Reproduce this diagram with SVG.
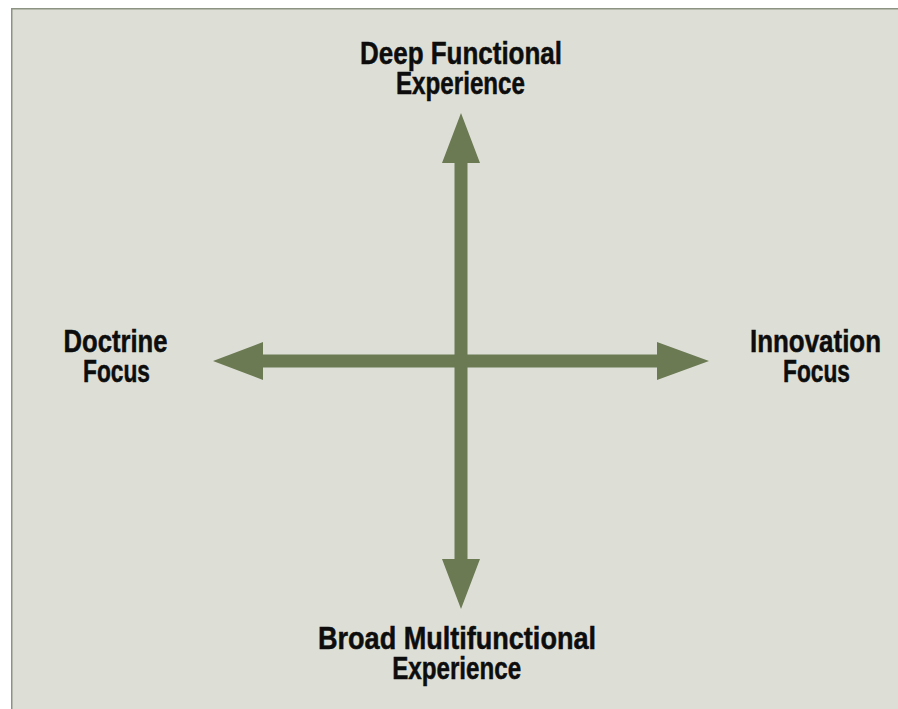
<svg xmlns="http://www.w3.org/2000/svg" width="898" height="709" viewBox="0 0 898 709">
  <style>
    .lbl { font-family: "Liberation Sans", Arial, sans-serif; font-weight: bold; font-size: 31px; fill: #0d0d0d; stroke: #0d0d0d; stroke-width: 0.5px; text-anchor: middle; }
    .arrow { fill: #6b7a53; }
  </style>
  <rect x="0" y="0" width="898" height="709" fill="#ffffff"/>
  <rect id="panel" x="11.75" y="8.75" width="920" height="720" fill="#dddfd6" stroke="#8c9382" stroke-width="1.5"/>
  <g id="connectors">
    <path class="arrow" d="M461,113 L480,163 L467.5,163 L467.5,559 L480,559 L461,609 L442,559 L454.5,559 L454.5,163 L442,163 Z"/>
    <path class="arrow" d="M213,361 L263,342 L263,354.5 L657,354.5 L657,342 L709,361 L657,380 L657,367.5 L263,367.5 L263,380 Z"/>
  </g>
  <g id="node-top">
    <text class="lbl" x="461" y="63.5" textLength="202" lengthAdjust="spacingAndGlyphs">Deep Functional</text>
    <text class="lbl" x="460.5" y="93.5" textLength="129" lengthAdjust="spacingAndGlyphs">Experience</text>
  </g>
  <g id="node-left">
    <text class="lbl" x="115.5" y="352" textLength="104" lengthAdjust="spacingAndGlyphs">Doctrine</text>
    <text class="lbl" x="116.5" y="382" textLength="67" lengthAdjust="spacingAndGlyphs">Focus</text>
  </g>
  <g id="node-right">
    <text class="lbl" x="815.5" y="352" textLength="131" lengthAdjust="spacingAndGlyphs">Innovation</text>
    <text class="lbl" x="816.5" y="382" textLength="67" lengthAdjust="spacingAndGlyphs">Focus</text>
  </g>
  <g id="node-bottom">
    <text class="lbl" x="457" y="649" textLength="278" lengthAdjust="spacingAndGlyphs">Broad Multifunctional</text>
    <text class="lbl" x="456.7" y="679" textLength="129" lengthAdjust="spacingAndGlyphs">Experience</text>
  </g>
</svg>
